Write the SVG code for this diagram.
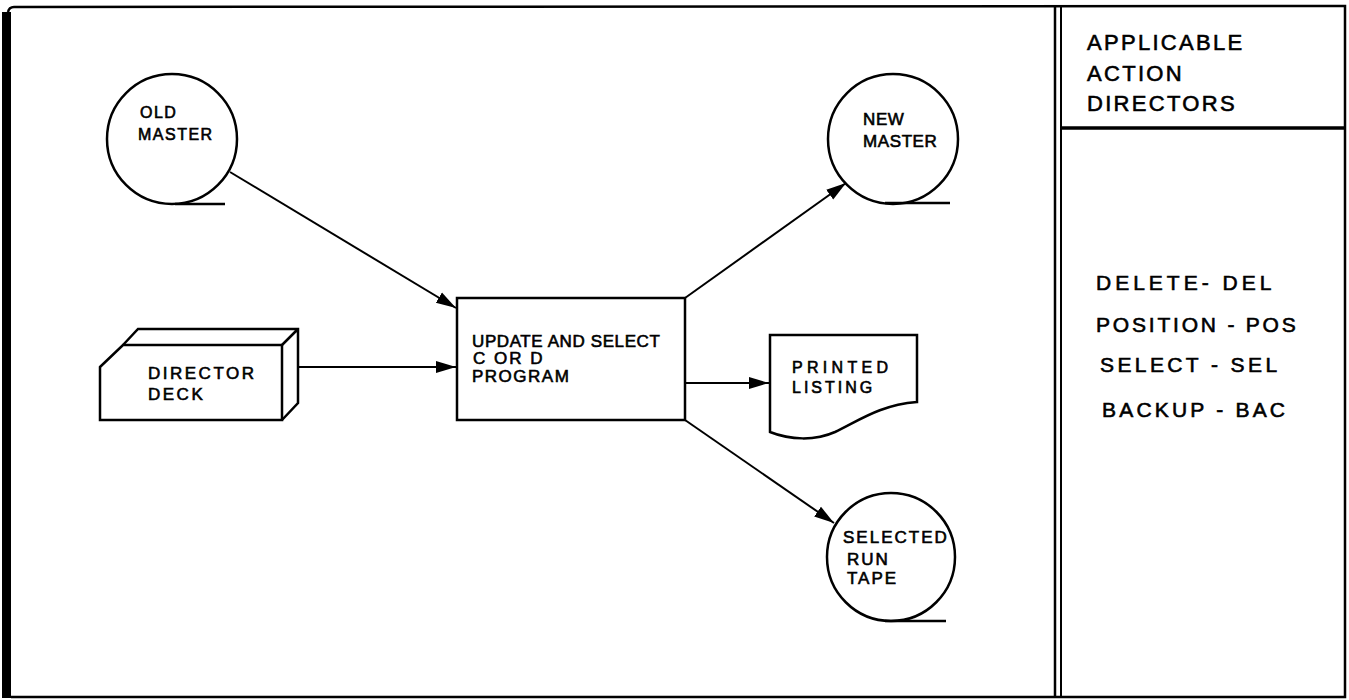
<svg xmlns="http://www.w3.org/2000/svg" width="1349" height="700" viewBox="0 0 1349 700">
<style>
.t{font-family:"Liberation Sans",Arial,sans-serif;fill:#000;stroke:#000;stroke-width:0.6}
.s{fill:none;stroke:#000;stroke-width:2.5}
.c{fill:none;stroke:#000;stroke-width:2}
</style>
<defs>
<marker id="ah" markerUnits="userSpaceOnUse" markerWidth="22" markerHeight="14" refX="20" refY="7" orient="auto">
<path d="M0,1 L20,7 L0,13 z" fill="#000"/>
</marker>
</defs>
<rect width="1349" height="700" fill="#fff"/>
<g id="frame">
<rect x="2" y="12" width="9" height="686" fill="#000"/>
<path d="M8,12 Q9,7 14,7 L1345,6 L1345,697 L11,697" class="s"/>
<line x1="1055" y1="6" x2="1055" y2="697" stroke="#000" stroke-width="2.5"/>
<line x1="1061" y1="6" x2="1061" y2="697" stroke="#000" stroke-width="2"/>
<line x1="1061" y1="128" x2="1345" y2="128" stroke="#000" stroke-width="3.5"/>
</g>
<g id="old-master">
<circle cx="172" cy="139" r="65" class="s"/>
<line x1="175" y1="204" x2="225" y2="204" class="s"/>
<text class="t" font-size="16" letter-spacing="1.5"><tspan x="140" y="118">OLD</tspan><tspan x="138" y="140">MASTER</tspan></text>
</g>
<g id="director-deck">
<path d="M100,367 L123,345 L282,345 L282,420 L100,420 Z" class="s"/>
<path d="M123,345 L138,329 L298,329 L298,403 L282,420 M282,345 L298,329" class="s"/>
<text class="t" font-size="17" letter-spacing="2.5"><tspan x="148" y="379">DIRECTOR</tspan><tspan x="148" y="400">DECK</tspan></text>
</g>
<g id="update-program">
<rect x="457" y="298" width="228" height="122" class="s"/>
<text class="t" font-size="17" letter-spacing="0.6"><tspan x="472" y="347">UPDATE AND SELECT</tspan><tspan x="473" y="364" letter-spacing="2">C OR D</tspan><tspan x="472" y="382" letter-spacing="1.5">PROGRAM</tspan></text>
</g>
<g id="new-master">
<circle cx="893" cy="139" r="65" class="s"/>
<line x1="885" y1="203" x2="950" y2="203" class="s"/>
<text class="t" font-size="17" letter-spacing="0.6"><tspan x="863" y="125">NEW</tspan><tspan x="863" y="147">MASTER</tspan></text>
</g>
<g id="printed-listing">
<path d="M770,335 L917,335 L917,402 C880,405 860,420 835,432 C815,441 790,440 770,432 Z" class="s"/>
<text class="t" font-size="16" letter-spacing="4.3"><tspan x="792" y="373">PRINTED</tspan><tspan x="792" y="393" letter-spacing="3">LISTING</tspan></text>
</g>
<g id="selected-run-tape">
<circle cx="891" cy="557" r="64" class="s"/>
<line x1="885" y1="621" x2="946" y2="621" class="s"/>
<text class="t" font-size="17" letter-spacing="2"><tspan x="843" y="543">SELECTED</tspan><tspan x="847" y="565">RUN</tspan><tspan x="847" y="584">TAPE</tspan></text>
</g>
<g id="legend">
<text class="t" font-size="22" letter-spacing="2.3"><tspan x="1087" y="50">APPLICABLE</tspan><tspan x="1087" y="81">ACTION</tspan><tspan x="1087" y="111">DIRECTORS</tspan></text>
<text class="t" font-size="21"><tspan x="1096" y="290" letter-spacing="4">DELETE- DEL</tspan><tspan x="1096" y="332" letter-spacing="2.8">POSITION - POS</tspan><tspan x="1100" y="372" letter-spacing="3.4">SELECT - SEL</tspan><tspan x="1102" y="417" letter-spacing="3.2">BACKUP - BAC</tspan></text>
</g>
<g id="connectors">
<line x1="230" y1="172" x2="456" y2="308" class="c" marker-end="url(#ah)"/>
<line x1="298" y1="367" x2="456" y2="367" class="c" marker-end="url(#ah)"/>
<line x1="685" y1="298" x2="846" y2="183" class="c" marker-end="url(#ah)"/>
<line x1="685" y1="383" x2="769" y2="383" class="c" marker-end="url(#ah)"/>
<line x1="685" y1="420" x2="834" y2="523" class="c" marker-end="url(#ah)"/>
</g>
</svg>
